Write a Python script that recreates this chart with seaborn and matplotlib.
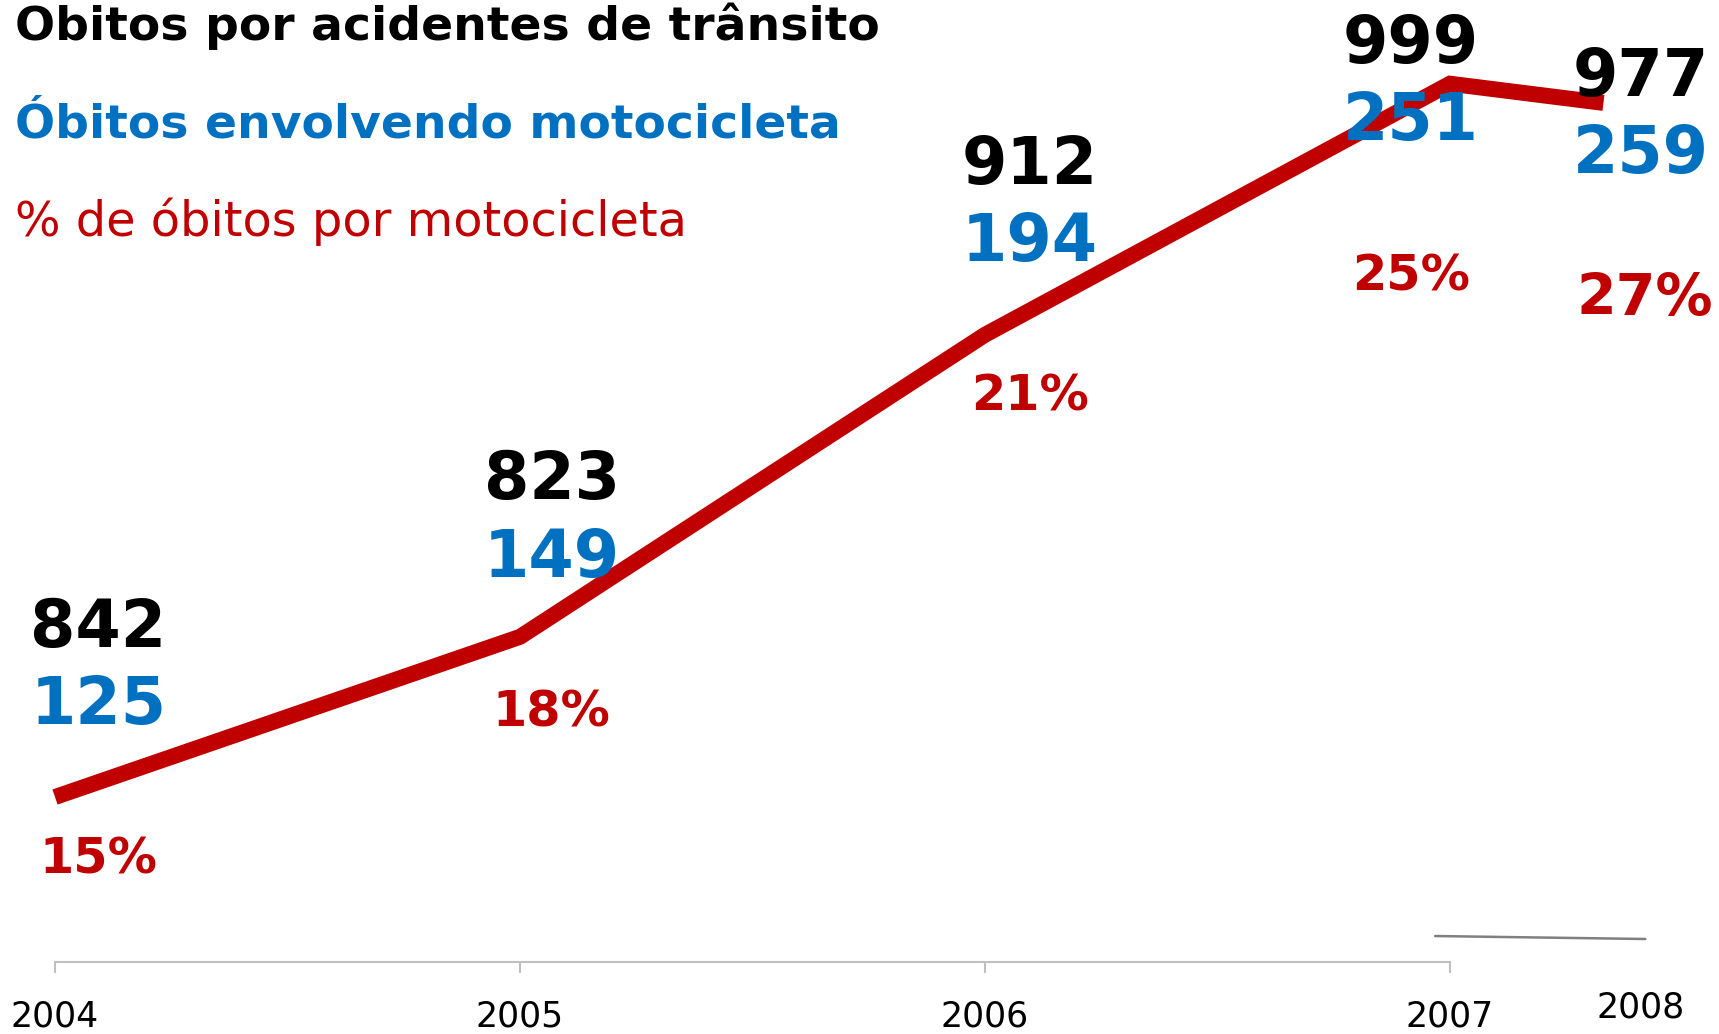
import numpy as np
import pandas as pd
import matplotlib
matplotlib.use("Agg")
import matplotlib.pyplot as plt
import seaborn as sns

# values
years = ["2004", "2005", "2006", "2007", "2008"]
total_deaths = [842, 823, 912, 999, 977]
moto_deaths = [125, 149, 194, 251, 259]
pct_moto = ["15%", "18%", "21%", "25%", "27%"]
# x where each point sits (2008 is squeezed in next to 2007) and line height
line_x = [2004, 2005, 2006, 2007, 2007.33]
line_level = [17.15, 33.8, 65.2, 91.3, 89.3]
# short grey stroke below 2008
stray_x = [2006.968, 2007.42]
stray_y = [2.70, 2.39]

# label layout (data coords, text baselines)
lab_x = [2004.093, 2005.068, 2006.097, 2006.916, 2007.411]
pct_x = [2004.093, 2005.068, 2006.097, 2006.916, 2007.419]
tot_y = [32.74, 48.13, 80.87, 93.48, 89.97]
moto_y = [24.78, 40.02, 72.87, 85.45, 82.02]
pct_y = [9.15, 24.43, 57.28, 69.85, 67.26]
pct_size = [35.5, 35.5, 35.5, 35.5, 41]

RED = "#C00000"
BLUE = "#0070C0"

sns.set_style("white")
plt.rcParams["font.family"] = ["DejaVu Sans"]

df = pd.DataFrame({"x": line_x, "level": line_level, "ano": years})

fig = plt.figure(figsize=(17.19, 10.34), dpi=100)
ax = fig.add_axes([55 / 1719, 72 / 1034, 1395 / 1719, 962 / 1034])

sns.lineplot(data=df, x="x", y="level", color=RED, linewidth=11.5, ax=ax,
             clip_on=False, solid_capstyle="butt", solid_joinstyle="miter")
ax.plot(stray_x, stray_y, color="#808080", linewidth=1.8, clip_on=False)

for i in range(len(years)):
    ax.text(lab_x[i], tot_y[i], str(total_deaths[i]), color="black",
            fontsize=47, fontweight="bold", ha="center", va="baseline")
    ax.text(lab_x[i], moto_y[i], str(moto_deaths[i]), color=BLUE,
            fontsize=47, fontweight="bold", ha="center", va="baseline")
    ax.text(pct_x[i], pct_y[i], pct_moto[i], color=RED,
            fontsize=pct_size[i], fontweight="bold", ha="center", va="baseline")

ax.set_xlim(2004, 2007)
ax.set_ylim(0, 100)
ax.set_xticks([2004, 2005, 2006, 2007])
ax.set_xticklabels(years[:4])
ax.set_yticks([])
ax.set_xlabel("")
ax.set_ylabel("")
for s in ["top", "left", "right"]:
    ax.spines[s].set_visible(False)
ax.spines["bottom"].set_color("#BFBFBF")
ax.spines["bottom"].set_linewidth(1.5)
ax.tick_params(axis="x", direction="out", length=8, width=1.5, color="#BFBFBF",
               pad=19, labelsize=25, labelcolor="black", bottom=True)

# 2008 label sits apart from the axis
ax.text(2007.411, (962 - 1017) / 9.62, years[4], fontsize=25, color="black",
        ha="center", va="baseline")

fig.text(15 / 1719, 1 - 39.5 / 1034, "Obitos por acidentes de trânsito",
         fontsize=34, fontweight="bold", color="black", va="baseline")
fig.text(15 / 1719, 1 - 137 / 1034, "Óbitos envolvendo motocicleta",
         fontsize=34, fontweight="bold", color=BLUE, va="baseline")
fig.text(15 / 1719, 1 - 236 / 1034, "% de óbitos por motocicleta",
         fontsize=34.5, color=RED, va="baseline")

fig.savefig("out.png", dpi=100)
